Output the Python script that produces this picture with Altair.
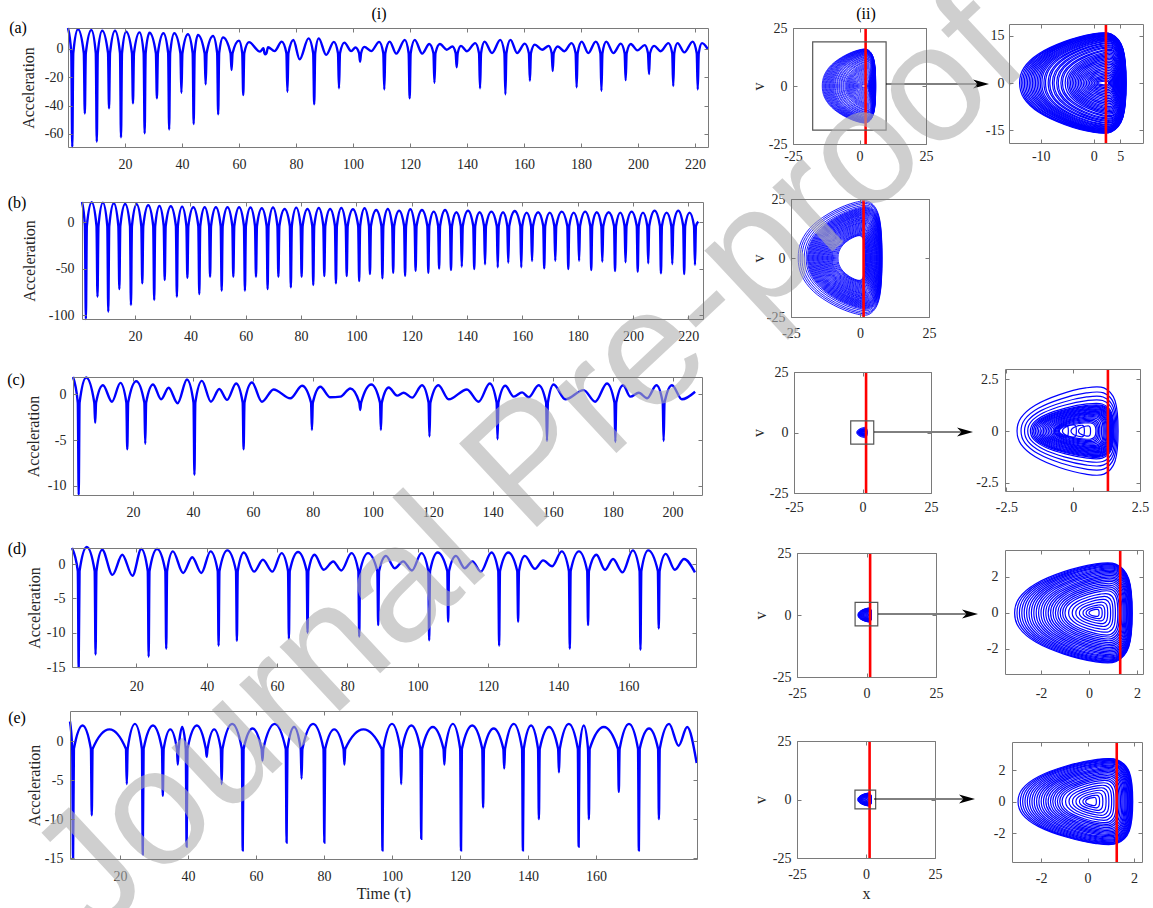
import altair as alt
import pandas as pd

W, H = 1153, 908
SERIF = "Liberation Serif"
BLUE = "#0000ff"
RED = "#ff0000"
FRAME = "#7a7a7a"
INK = "#262626"

# ---------------- time series (i) ----------------
# (a)
a_wave_t = [0.0, 3.5, 8.2, 12.0, 16.5, 20.4, 25.1, 28.6, 33.5, 37.3, 42.1, 45.6, 50.9, 54.4, 60.0, 63.5,
            67.4, 68.6, 70.2, 72.5, 75.0, 79.1, 81.3, 84.4, 88.0, 90.6, 93.3, 97.0, 99.4, 100.9, 104.0,
            106.4, 109.2, 112.9, 115.2, 118.2, 121.7, 124.3, 126.8, 130.5, 132.9, 134.9, 137.9, 140.0,
            142.9, 146.2, 148.8, 151.7, 155.3, 157.6, 160.3, 163.8, 166.4, 168.7, 171.9, 174.2, 176.7,
            180.3, 182.6, 185.2, 188.9, 191.4, 194.0, 197.5, 199.8, 202.4, 205.7, 208.0, 210.7, 213.9,
            216.3, 219.2, 222.5, 224.5]
a_wave_v = [14.8, 13.9, 13.4, 12.9, 12.9, 12.2, 11.7, 11.5, 11.1, 11.1, 10.4, 9.9, 9.2, 8.2, 5.9, 4.8,
            -1.9, 0.6, 1.2, -1.5, 5.2, 6.3, -7.3, 7.5, 7.5, -4.2, 5.0, 4.5, -1.5, 1.0, 1.5,
            -1.5, 5.0, 5.2, -3.3, 6.4, 6.4, -3.3, 3.5, 3.5, -0.5, 1.7, 2.2, -1.6,
            4.1, 5.2, -2.9, 6.4, 6.4, -2.9, 3.8, 3.1, -0.5, 2.2, 1.7, -1.6, 4.1,
            5.2, -2.9, 5.2, 5.2, -2.9, 3.8, 3.5, -1.0, 2.7, 2.2, -1.6, 4.1, 4.1,
            -2.4, 5.2, 4.1, 0.0]
a_spike_t = [1.5, 5.9, 10.1, 14.4, 18.6, 22.8, 26.9, 31.2, 35.5, 39.8, 44.1, 48.3, 52.7, 57.4, 61.5,
             69.3, 77.0, 86.4, 95.1, 102.5, 111.0, 119.9, 128.6, 136.4, 144.6, 153.5, 162.1, 170.1,
             178.5, 187.2, 195.7, 203.9, 212.4, 221.0]
a_spike_v = [-69.2, -45.5, -65.5, -41.9, -62.4, -38.4, -59.6, -34.9, -56.8, -30.9, -53.0, -25.0, -46.2,
             -14.8, -32.5, -3.8, -30.2, -39.1, -27.8, -9.0, -28.6, -34.9, -23.8, -13.0, -27.8, -32.0,
             -22.4, -15.5, -27.1, -29.5, -22.0, -17.7, -26.1, -28.6]

# (b)
b_spike_t = [2.2, 6.4, 10.3, 14.3, 18.5, 22.6, 26.9, 30.7, 35.1, 38.9, 43.2, 47.1, 51.3, 55.5, 59.7,
             63.7, 67.9, 71.8, 76.3, 80.2, 84.4, 88.4, 92.6, 96.5, 101.0, 104.9, 109.4, 113.3, 117.6,
             121.4, 126.0, 129.9, 134.2, 138.1, 142.6, 146.5, 151.1, 154.9, 159.6, 163.5, 167.9,
             171.9, 176.6, 180.5, 184.9, 188.9, 193.5, 197.3, 201.7, 205.5, 210.1, 214.2, 218.5, 222.4]
b_spike_v = [-104.3, -80.3, -96.5, -72.0, -89.3, -65.9, -83.9, -62.3, -80.3, -59.8, -77.4, -58.7, -73.8,
             -58.7, -73.8, -58.7, -72.0, -58.7, -70.2, -58.7, -67.7, -58.0, -65.9, -58.0, -63.4, -55.8,
             -60.5, -54.4, -57.6, -52.2, -54.4, -50.0, -51.5, -47.9, -50.4, -45.4, -48.6, -43.6, -48.6,
             -41.8, -49.7, -41.4, -50.4, -41.4, -51.5, -42.5, -52.6, -43.2, -53.3, -44.3, -55.1, -45.0,
             -55.8, -46.1]
b_wave_t = [0.8, 4.3, 8.35, 12.3, 16.4, 20.55, 24.75, 28.8, 32.9, 37.0, 41.05, 45.15, 49.2, 53.4, 57.6,
            61.7, 65.8, 69.85, 74.05, 78.25, 82.3, 86.4, 90.5, 94.55, 98.75, 102.95, 107.15, 111.35,
            115.45, 119.5, 123.7, 127.95, 132.05, 136.15, 140.35, 144.55, 148.8, 153.0, 157.25, 161.55,
            165.7, 169.9, 174.25, 178.55, 182.7, 186.9, 191.2, 195.4, 199.5, 203.6, 207.8, 212.15,
            216.35, 220.45, 223.6]
b_wave_v = [21.9, 21.6, 21.2, 20.5, 19.8, 19.4, 18.4, 17.6, 17.3, 16.9, 16.2, 16.2, 16.2, 16.2, 16.2,
            16.0, 15.1, 16.0, 14.4, 15.8, 14.4, 15.5, 14.4, 15.5, 14.0, 15.1, 13.3, 14.4, 12.6, 14.0,
            13.3, 11.5, 13.3, 10.8, 12.6, 10.8, 11.5, 10.8, 12.2, 10.4, 10.8, 10.4, 11.5, 10.4, 11.5,
            10.8, 10.8, 10.4, 11.5, 10.4, 12.6, 10.4, 12.6, 10.4, 0.7]

# (c)
c_wave_t = [0.0, 4.4, 10.0, 13.0, 15.8, 21.1, 26.7, 29.4, 31.9, 34.9, 38.0, 43.0, 46.0, 48.8, 51.4, 54.4,
            59.7, 63.0, 66.9, 72.5, 76.4, 82.5, 85.8, 89.2, 92.5, 99.5, 105.3, 108.1, 110.3, 113.1,
            116.4, 121.9, 125.3, 131.4, 135.3, 139.0, 144.2, 147.0, 149.8, 152.0, 155.3, 160.3, 164.2,
            170.3, 174.2, 178.1, 183.5, 185.9, 188.7, 191.5, 194.6, 199.8, 203.1, 207.5]
c_wave_v = [1.9, 1.84, 1.0, -0.8, 1.26, 1.44, 1.08, -0.54, 0.72, -0.97, 1.62, 1.48, -0.8, 0.58, -0.6,
            1.19, 1.3, -0.8, 0.54, -0.43, 0.94, 0.83, -0.32, -0.25, 0.65, 1.08, 0.76, -0.14, 0.18,
            -0.36, 1.0, 1.0, -0.54, 0.54, -0.8, 1.19, 0.94, -0.25, 0.22, -0.32, 1.0, 1.08, -0.54,
            0.47, -0.8, 1.19, 1.0, -0.25, 0.18, -0.43, 1.0, 1.0, -0.54, 0.29]
c_spike_t = [1.9, 7.4, 18.1, 24.1, 40.5, 56.9, 79.7, 95.8, 102.7, 118.9, 141.6, 158.1, 180.9, 197.0]
c_spike_v = [-11.0, -3.1, -6.0, -5.4, -8.8, -6.0, -3.9, -1.7, -3.9, -4.6, -4.9, -5.1, -5.2, -5.1]

# (d)
d_wave_t = [1.7, 5.9, 10.3, 13.2, 16.0, 18.9, 21.4, 25.9, 30.4, 33.3, 35.9, 38.5, 41.1, 45.9, 50.6,
            53.5, 56.0, 58.7, 61.3, 66.0, 70.7, 73.3, 76.0, 78.3, 81.2, 85.9, 91.0, 93.5, 95.9, 98.4,
            101.1, 105.7, 110.9, 113.4, 115.6, 118.0, 121.0, 125.8, 130.5, 133.4, 135.7, 138.3, 141.0,
            145.9, 150.9, 153.3, 155.6, 158.3, 161.2, 165.6, 170.6, 173.2, 175.8, 178.9]
d_wave_v = [2.35, 2.5, 2.1, -1.57, 1.37, -1.7, 2.2, 2.2, 1.86, -1.3, 1.0, -1.3, 1.86, 2.0, 1.7,
            -1.1, 0.64, -1.1, 1.6, 1.76, 1.37, -0.83, 0.39, -0.93, 1.6, 1.6, 1.2, -0.6, 0.4, -0.93,
            1.6, 1.7, 1.2, -0.6, 0.4, -1.1, 1.7, 1.7, 1.2, -0.7, 0.54, -0.3, 1.86,
            1.86, 1.37, -0.83, 0.74, -1.2, 2.0, 2.0, 1.5, -0.83, 0.74, -1.2]
d_spike_t = [3.6, 8.4, 23.5, 28.5, 43.4, 48.6, 63.4, 68.7, 83.4, 88.8, 103.3, 108.7, 123.2, 128.6,
             143.3, 148.5, 163.4, 168.6]
d_spike_v = [-15.0, -13.2, -13.5, -12.35, -11.9, -11.2, -10.9, -10.0, -10.6, -8.9, -11.1, -8.4, -11.9,
             -8.4, -12.35, -8.9, -12.5, -9.4]

# (e)
e_spike_t = [6.2, 11.7, 22.0, 26.7, 32.6, 37.0, 39.6, 45.5, 49.9, 56.1, 61.9, 69.0, 73.4, 80.1, 86.0,
             97.2, 102.7, 108.6, 115.4, 120.3, 126.8, 133.0, 138.5, 143.2, 149.1, 154.9, 157.9, 166.7,
             172.6, 178.5]
e_spike_v = [-15.0, -9.5, -5.5, -14.5, -7.0, -3.0, -13.5, -2.0, -5.5, -14.0, -2.5, -13.0, -4.8, -13.0,
             -3.0, -14.0, -5.5, -12.5, -3.0, -14.0, -8.5, -3.5, -14.0, -10.0, -4.0, -13.5, -10.0, -6.5,
             -14.0, -10.0]
e_wave_t = [5.3, 9.0, 16.9, 24.4, 29.7, 34.8, 38.3, 42.6, 47.7, 53.0, 59.0, 65.5, 71.2, 76.8, 83.0, 91.6,
            100.0, 105.7, 112.0, 117.9, 123.6, 129.9, 135.8, 140.9, 146.2, 152.0, 156.4, 162.3, 169.7,
            175.6, 181.5, 184.3, 186.8, 189.6]
e_wave_v = [2.5, 2.0, 1.5, 2.2, 2.0, 1.5, 1.8, 2.0, 1.5, 2.2, 1.6, 2.2, 1.8, 2.2, 1.5, 1.5,
            2.2, 2.0, 1.8, 2.2, 2.0, 1.6, 2.2, 2.0, 1.8, 2.2, 2.0, 1.8, 2.2, 1.6, 2.2, -0.6, 1.8, -2.8]

# ---------------- phase portraits (ii): loop extents (left x, right x, top v) ----------------
pa_xl = [-14.0, -13.7, -13.4, -13.1, -12.8, -12.5, -12.2, -11.9, -11.6, -11.3, -11.0, -10.7, -10.4,
         -10.1, -9.8, -9.4, -9.1, -8.6, -8.3, -7.8, -7.5, -7.0, -6.7, -6.2, -5.9, -5.4, -5.0, -4.7,
         -4.4, -4.1, -3.8, -3.5, -3.2, -2.9, -2.6, -2.3, -2.0, -1.7, -1.4, -1.1, -0.8, -0.5,
         -0.2, 0.1, 0.4, 0.7]
pa_xr = [6.1, 6.1, 6.05, 6.05, 6.0, 6.0, 5.95, 5.95, 5.9, 5.9, 5.85, 5.85, 5.8, 5.8, 5.75, 5.7, 5.65,
         5.6, 5.55, 5.5, 5.45, 5.4, 5.35, 5.3, 5.25, 5.2, 5.1, 5.0, 4.9, 4.8, 4.7, 4.6, 4.5, 4.4, 4.3,
         4.2, 4.1, 4.0, 3.9, 3.8, 3.7, 3.6, 3.4, 3.2, 3.0, 2.8]
pa_vt = [16.0, 15.9, 15.8, 15.6, 15.5, 15.3, 15.2, 15.0, 14.9, 14.7, 14.5, 14.3, 14.1, 13.9, 13.7,
         13.4, 13.2, 12.8, 12.6, 12.2, 11.9, 11.5, 11.2, 10.7, 10.4, 9.9, 9.5, 9.1, 8.7, 8.3, 7.9,
         7.5, 7.0, 6.5, 6.0, 5.5, 5.0, 4.5, 4.0, 3.5, 3.0, 2.5, 2.0, 1.5, 1.0, 0.6]

pb_xl = [-22.4, -21.7, -21.0, -20.2, -19.5, -19.0, -18.7, -18.4, -18.1, -17.8, -17.5, -17.2, -16.9,
         -16.6, -16.3, -16.0, -15.7, -15.4, -15.1, -14.8, -14.5, -14.2, -13.9, -13.6, -13.3, -13.0,
         -12.7, -12.4, -12.1, -11.8, -11.5, -11.2, -10.9, -10.6, -10.3, -10.0, -9.6, -9.2, -8.8,
         -8.4, -8.0]
pb_vt = [24.3, 23.7, 23.1, 22.4, 21.8, 21.4, 21.1, 20.8, 20.5, 20.2, 19.9, 19.6, 19.3, 19.0, 18.7,
         18.4, 18.1, 17.7, 17.4, 17.0, 16.7, 16.3, 16.0, 15.6, 15.2, 14.9, 14.5, 14.1, 13.7, 13.3,
         12.9, 12.5, 12.1, 11.7, 11.3, 10.9, 10.5, 10.2, 9.9, 9.7, 9.5]
pb_xr = [8.0, 7.95, 7.9, 7.8, 7.7, 7.6, 7.5, 7.4, 7.3, 7.2, 7.1, 7.0, 6.9, 6.8, 6.6, 6.5, 6.3, 6.2,
         6.0, 5.9, 5.7, 5.5, 5.4, 5.2, 5.0, 4.8, 4.6, 4.4, 4.2, 4.0, 3.8, 3.6, 3.4, 3.2, 3.0, 2.8,
         2.6, 2.4, 2.2, 2.0, 1.8]

pc_xl = [-2.10, -1.95, -1.82, -1.70, -1.60, -1.54, -1.48, -1.42, -1.36, -1.30, -1.24, -1.18, -1.12,
         -1.06, -1.00, -0.94, -0.88, -0.82, -0.76, -0.70, -0.66, -0.62, -0.58, -0.55, -0.52,
         -0.72, -0.40, -0.08, 0.20]
pc_vt = [2.15, 1.90, 1.70, 1.52, 1.35, 1.28, 1.24, 1.20, 1.16, 1.12, 1.08, 1.04, 1.00, 0.96, 0.92,
         0.88, 0.84, 0.80, 0.75, 0.70, 0.64, 0.58, 0.52, 0.46, 0.40, 0.30, 0.30, 0.28, 0.25]
pc_xr = [1.68, 1.64, 1.60, 1.56, 1.52, 1.50, 1.48, 1.46, 1.44, 1.42, 1.40, 1.38, 1.36, 1.33, 1.30,
         1.27, 1.24, 1.20, 1.16, 1.12, 1.06, 1.00, 0.95, 0.90, 0.85, -0.18, 0.12, 0.42, 0.65]

pd_xl = [-3.10, -3.00, -2.90, -2.80, -2.70, -2.60, -2.50, -2.40, -2.30, -2.20, -2.10, -2.00, -1.90,
         -1.80, -1.70, -1.60, -1.50, -1.40, -1.30, -1.20, -1.10, -1.00, -0.85, -0.70, -0.55, -0.40,
         -0.25, -0.12, 0.00]
pd_vt = [2.80, 2.76, 2.72, 2.68, 2.63, 2.58, 2.52, 2.46, 2.40, 2.33, 2.26, 2.18, 2.10, 2.02, 1.94,
         1.85, 1.76, 1.66, 1.56, 1.46, 1.35, 1.24, 1.08, 0.92, 0.76, 0.60, 0.45, 0.32, 0.20]
pd_xr = [1.80, 1.79, 1.78, 1.77, 1.76, 1.75, 1.74, 1.72, 1.70, 1.68, 1.66, 1.63, 1.60, 1.57, 1.54,
         1.50, 1.46, 1.42, 1.37, 1.32, 1.26, 1.20, 1.10, 1.00, 0.90, 0.78, 0.66, 0.55, 0.42]

pe_xl = [-3.00, -2.90, -2.80, -2.70, -2.60, -2.50, -2.40, -2.30, -2.20, -2.10, -2.00, -1.90, -1.80,
         -1.70, -1.60, -1.50, -1.40, -1.30, -1.20, -1.10, -0.95, -0.80, -0.65, -0.50, -0.35, -0.20,
         -0.08]
pe_vt = [2.75, 2.72, 2.68, 2.63, 2.58, 2.52, 2.46, 2.40, 2.33, 2.26, 2.18, 2.10, 2.02, 1.94, 1.85,
         1.76, 1.66, 1.56, 1.46, 1.35, 1.20, 1.04, 0.88, 0.72, 0.56, 0.40, 0.26]
pe_xr = [1.95, 1.93, 1.91, 1.89, 1.87, 1.85, 1.82, 1.79, 1.76, 1.73, 1.70, 1.66, 1.62, 1.58, 1.53,
         1.48, 1.42, 1.36, 1.30, 1.24, 1.14, 1.04, 0.92, 0.80, 0.66, 0.52, 0.38]

# loop outline template (normalised): u along x from left to right, w along v
SHAPE_U = [0.00, 0.04, 0.18, 0.42, 0.68, 0.86, 0.97, 1.00, 0.97, 0.86, 0.68, 0.42, 0.18, 0.04]
SHAPE_W = [0.00, 0.30, 0.58, 0.82, 0.97, 0.97, 0.68, 0.00, -0.68, -0.97, -0.97, -0.82, -0.58, -0.30]


def series_df(wt, wv, st, sv, cusp, half):
    rows = list(zip(wt, wv))
    for t, v in zip(st, sv):
        rows += [(t - half, cusp), (t, v), (t + half, cusp)]
    return pd.DataFrame(rows, columns=["t", "a"]).sort_values("t").reset_index(drop=True)


def loops_df(xl, xr, vt):
    rows = []
    for i, (a, b, h) in enumerate(zip(xl, xr, vt)):
        for j, (u, w) in enumerate(zip(SHAPE_U, SHAPE_W)):
            rows.append({"loop": i, "k": j, "x": a + u * (b - a), "v": w * h})
    return pd.DataFrame(rows)


def sc(dom, rng):
    return alt.Scale(domain=list(dom), range=list(rng), nice=False, zero=False)


LAB = dict(ticks=False, domain=False, grid=False, tickSize=0, labelOverlap=False, labelFlush=False,
           labelExpr="'' + datum.value", labelFont=SERIF, labelFontSize=14, labelColor=INK)
FR = dict(labels=False, ticks=True, domain=True, grid=False, title=None, zindex=1,
          tickColor=FRAME, domainColor=FRAME, domainWidth=1, tickWidth=1)


def lab_axis(orient, offset, values, pad, title=None, tpos=None):
    kw = dict(LAB, orient=orient, offset=offset, values=values, labelPadding=pad)
    if title is None:
        kw["title"] = None
    else:
        kw.update(title=title, titleFont=SERIF, titleFontSize=16, titleFontWeight="normal",
                  titleColor=INK, titleBaseline="middle")
        if orient in ("left", "right"):
            kw["titleX"] = tpos
        else:
            kw["titleY"] = tpos
    return alt.Axis(**kw)


def frame_layers(geo, xdom, ydom, xt, yt, tick=4):
    x0, x1, y0, y1 = geo
    xs, ys = sc(xdom, [x0, x1]), sc(ydom, [y1, y0])
    d = alt.Chart(pd.DataFrame({"x": [xdom[0]], "y": [ydom[0]]})).mark_point(opacity=0, size=1)
    l1 = d.encode(
        x=alt.X("x:Q", scale=xs, axis=alt.Axis(orient="top", offset=-y1, values=xt, tickSize=tick, **FR)),
        y=alt.Y("y:Q", scale=ys, axis=alt.Axis(orient="right", offset=x0 - W, values=yt, tickSize=tick, **FR)))
    l2 = d.encode(
        x=alt.X("x:Q", scale=xs, axis=alt.Axis(orient="bottom", offset=y0 - H, values=xt, tickSize=tick, **FR)),
        y=alt.Y("y:Q", scale=ys, axis=alt.Axis(orient="left", offset=-x1, values=yt, tickSize=tick, **FR)))
    return [l1, l2]


def ts_panel(geo, xdom, ydom, xt, yt, df, xpad, ypad, ytitle_x, xtitle=None, xtitle_y=None):
    x0, x1, y0, y1 = geo
    xs, ys = sc(xdom, [x0, x1]), sc(ydom, [y1, y0])
    line = alt.Chart(df).mark_line(interpolate="monotone", color=BLUE, strokeWidth=2.4).encode(
        x=alt.X("t:Q", scale=xs,
                axis=lab_axis("bottom", y1 - H, xt, xpad, xtitle, None if xtitle_y is None else xtitle_y - y1)),
        y=alt.Y("a:Q", scale=ys, axis=lab_axis("left", -x0, yt, ypad, "Acceleration", ytitle_x - x0)))
    return [line] + frame_layers(geo, xdom, ydom, xt, yt)


def phase_panel(geo, xdom, ydom, xt, yt, df, xpad, ypad, red_x, width,
                vtitle_x=None, xtitle_y=None, box=None):
    x0, x1, y0, y1 = geo
    xs, ys = sc(xdom, [x0, x1]), sc(ydom, [y1, y0])
    loops = alt.Chart(df).mark_line(interpolate="cardinal-closed", color=BLUE, strokeWidth=width).encode(
        x=alt.X("x:Q", scale=xs,
                axis=lab_axis("bottom", y1 - H, xt, xpad, None if xtitle_y is None else "x",
                              None if xtitle_y is None else xtitle_y - y1)),
        y=alt.Y("v:Q", scale=ys,
                axis=lab_axis("left", -x0, yt, ypad, None if vtitle_x is None else "v",
                              None if vtitle_x is None else vtitle_x - x0)),
        detail="loop:N", order="k:Q")
    layers = [loops]
    red = alt.Chart(pd.DataFrame({"x": [red_x], "y": [ydom[1]], "y2": [ydom[0]]})).mark_rule(
        color=RED, strokeWidth=2.6).encode(
        x=alt.X("x:Q", scale=xs, axis=None), y=alt.Y("y:Q", scale=ys, axis=None), y2="y2:Q")
    layers.append(red)
    if box is not None:
        bx = alt.Chart(pd.DataFrame({"x": [box[0]], "x2": [box[1]], "y": [box[2]], "y2": [box[3]]})).mark_rect(
            fillOpacity=0, stroke="#555555", strokeWidth=1.2).encode(
            x=alt.X("x:Q", scale=xs, axis=None), x2="x2:Q",
            y=alt.Y("y:Q", scale=ys, axis=None), y2="y2:Q")
        layers.append(bx)
    return layers + frame_layers(geo, xdom, ydom, xt, yt)


def arrow(x_start, x_tip, y):
    line = alt.Chart(pd.DataFrame({"k": [0]})).mark_rule(color="black", strokeWidth=1).encode(
        x=alt.value(x_start), x2=alt.value(x_tip - 6), y=alt.value(y))
    head = alt.Chart(pd.DataFrame({"k": [0]})).mark_point(
        shape="M 1 0 L -1 -0.55 L -0.45 0 L -1 0.55 Z", filled=True, color="black", opacity=1,
        size=256).encode(x=alt.value(x_tip - 8), y=alt.value(y))
    return [line, head]


def txt(s, x, y, size=16, font=SERIF, **kw):
    return alt.Chart(pd.DataFrame({"s": [s]})).mark_text(
        font=font, fontSize=size, align="center", baseline="middle", **kw).encode(
        text="s:N", x=alt.value(x), y=alt.value(y))


T20 = list(range(20, 221, 20))
layers = []
# (i) time series
layers += ts_panel((68, 708, 28, 147), [0, 224.6], [-69.2, 14.8], T20, [-60, -40, -20, 0],
                   series_df(a_wave_t, a_wave_v, a_spike_t, a_spike_v, -3.0, 0.35), 10, 5, 28)
layers += ts_panel((82, 703, 202, 319), [0.8, 225.3], [-104.3, 21.9], T20, [-100, -50, 0],
                   series_df(b_wave_t, b_wave_v, b_spike_t, b_spike_v, -4.0, 0.35), 10, 8, 29)
layers += ts_panel((73, 702, 377, 495), [0, 209.8], [-11, 1.9], list(range(20, 201, 20)), [-10, -5, 0],
                   series_df(c_wave_t, c_wave_v, c_spike_t, c_spike_v, -0.9, 0.3), 10, 7, 33)
layers += ts_panel((72, 696, 548, 667), [1.7, 179.2], [-15, 2.35], list(range(20, 161, 20)), [-15, -10, -5, 0],
                   series_df(d_wave_t, d_wave_v, d_spike_t, d_spike_v, -1.0, 0.25), 12, 7, 34)
layers += ts_panel((70, 697, 711, 859), [5.3, 189.7], [-15.1, 3.85], list(range(20, 161, 20)),
                   [-15, -10, -5, 0],
                   series_df(e_wave_t, e_wave_v, e_spike_t, e_spike_v, -1.0, 0.25), 10, 7, 34,
                   "Time (\u03c4)", 893)

# (ii) phase portraits: overview panels
P25 = [-25, 0, 25]
DA, DB, DC, DD, DE = (loops_df(pa_xl, pa_xr, pa_vt), loops_df(pb_xl, pb_xr, pb_vt),
                      loops_df(pc_xl, pc_xr, pc_vt), loops_df(pd_xl, pd_xr, pd_vt),
                      loops_df(pe_xl, pe_xr, pe_vt))
layers += phase_panel((793, 926, 28, 144), [-25, 25], [-25, 25], P25, P25, DA, 5, 6, 2.3, 0.8,
                      vtitle_x=758, box=(-17.6, 10, -19, 19))
layers += phase_panel((791, 929, 199, 317), [-25, 25], [-25, 25], P25, P25, DB, 9, 6, 1.3, 0.9,
                      vtitle_x=758)
layers += phase_panel((794, 931, 372, 493), [-25, 25], [-25, 25], P25, P25, DC, 7, 6, 1.3, 0.8,
                      vtitle_x=758, box=(-4.3, 4.1, -4.8, 4.8))
layers += phase_panel((797, 936, 553, 677), [-25, 25], [-25, 25], P25, P25, DD, 9, 6, 1.3, 0.8,
                      vtitle_x=760, box=(-4.1, 4.05, -4.4, 5.1))
layers += phase_panel((797, 935, 741, 858), [-25, 25], [-25, 25], P25, P25, DE, 9, 6, 1.3, 0.8,
                      vtitle_x=760, xtitle_y=893, box=(-4.0, 3.5, -4.0, 4.0))
# zoomed panels
layers += phase_panel((1009, 1143, 24, 143), [-16, 9.3], [-19, 18.7], [-10, 0, 5], [-15, 0, 15], DA, 6, 5,
                      2.3, 1.2)
layers += phase_panel((1005, 1140, 369, 491), [-2.55, 2.5], [-2.9, 3.0], [-2.5, 0, 2.5], [-2.5, 0, 2.5], DC,
                      9, 7, 1.3, 1.2)
layers += phase_panel((1005, 1143, 550, 674), [-3.5, 2.25], [-3.4, 3.5], [-2, 0, 2], [-2, 0, 2], DD,
                      12, 7, 1.3, 1.2)
layers += phase_panel((1012, 1142, 742, 862), [-3.26, 2.35], [-3.84, 3.78], [-2, 0, 2], [-2, 0, 2], DE,
                      9, 7, 1.26, 1.2)

# arrows from overview boxes to zoomed panels
layers += arrow(886, 989, 84)
layers += arrow(874, 973, 432)
layers += arrow(878, 978, 614)
layers += arrow(874, 975, 799)

# panel labels
for s, x, y in [("(a)", 18, 28), ("(b)", 17, 203), ("(c)", 16, 380), ("(d)", 17, 549), ("(e)", 17, 718),
                ("(i)", 379, 14), ("(ii)", 866, 14)]:
    layers.append(txt(s, x, y, color="black"))

# watermark
layers.append(txt("Journal Pre-proof", 530, 465, size=166, font="Liberation Sans",
                  angle=317, color="#b0b0b0", opacity=0.6))

chart = alt.layer(*layers).resolve_scale(x="independent", y="independent").properties(
    width=W, height=H, autosize=alt.AutoSizeParams(type="none"), padding=0
).configure_view(stroke=None).configure_axis(grid=False)

chart.save("out.html", embed_options={"renderer": "svg", "actions": False})
